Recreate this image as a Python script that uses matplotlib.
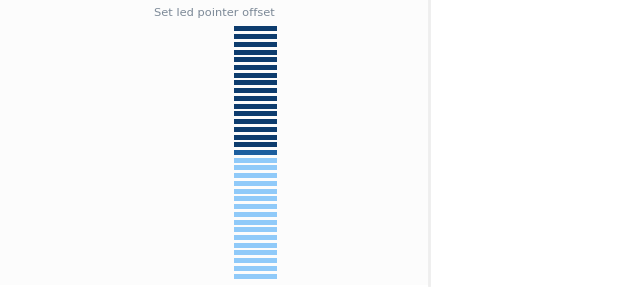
import numpy as np
import matplotlib.pyplot as plt

TITLE = "Set led pointer offset"
LED_COUNT = 33
LIT_LEDS = 16      # dark leds counted from the top
POINTER_LED = 16   # index of the pointer led (mid blue)

DARK = "#0d3c6e"
POINTER = "#1c5e9e"
LIGHT = "#90caf9"

fig = plt.figure(figsize=(6.2, 3.0), dpi=100)
fig.patch.set_facecolor("white")

# panel background + divider
bg = fig.add_axes([0, 15 / 300, 428 / 620, 285 / 300])
bg.set_facecolor("#fcfcfc")
bg.set_xticks([])
bg.set_yticks([])
for s in bg.spines.values():
    s.set_visible(False)
fig.add_artist(plt.Line2D([429 / 620, 429 / 620], [15 / 300, 1], color="#eeeeee", lw=2))

fig.text(214 / 620, 1 - 13 / 300, TITLE, ha="center", va="center",
         fontsize=8.2, color="#7d8a98")

ax = fig.add_axes([234 / 620, 1 - 280 / 300, 43 / 620, 255 / 300])
idx = np.arange(LED_COUNT)
colors = []
for i in idx:
    if i < LIT_LEDS:
        colors.append(DARK)
    elif i == POINTER_LED:
        colors.append(POINTER)
    else:
        colors.append(LIGHT)
ax.barh(idx, np.ones(LED_COUNT), height=0.64, color=colors)
ax.set_ylim(LED_COUNT - 0.5, -0.5)
ax.set_xlim(0, 1)
ax.axis("off")

plt.savefig("out.png", dpi=100)
